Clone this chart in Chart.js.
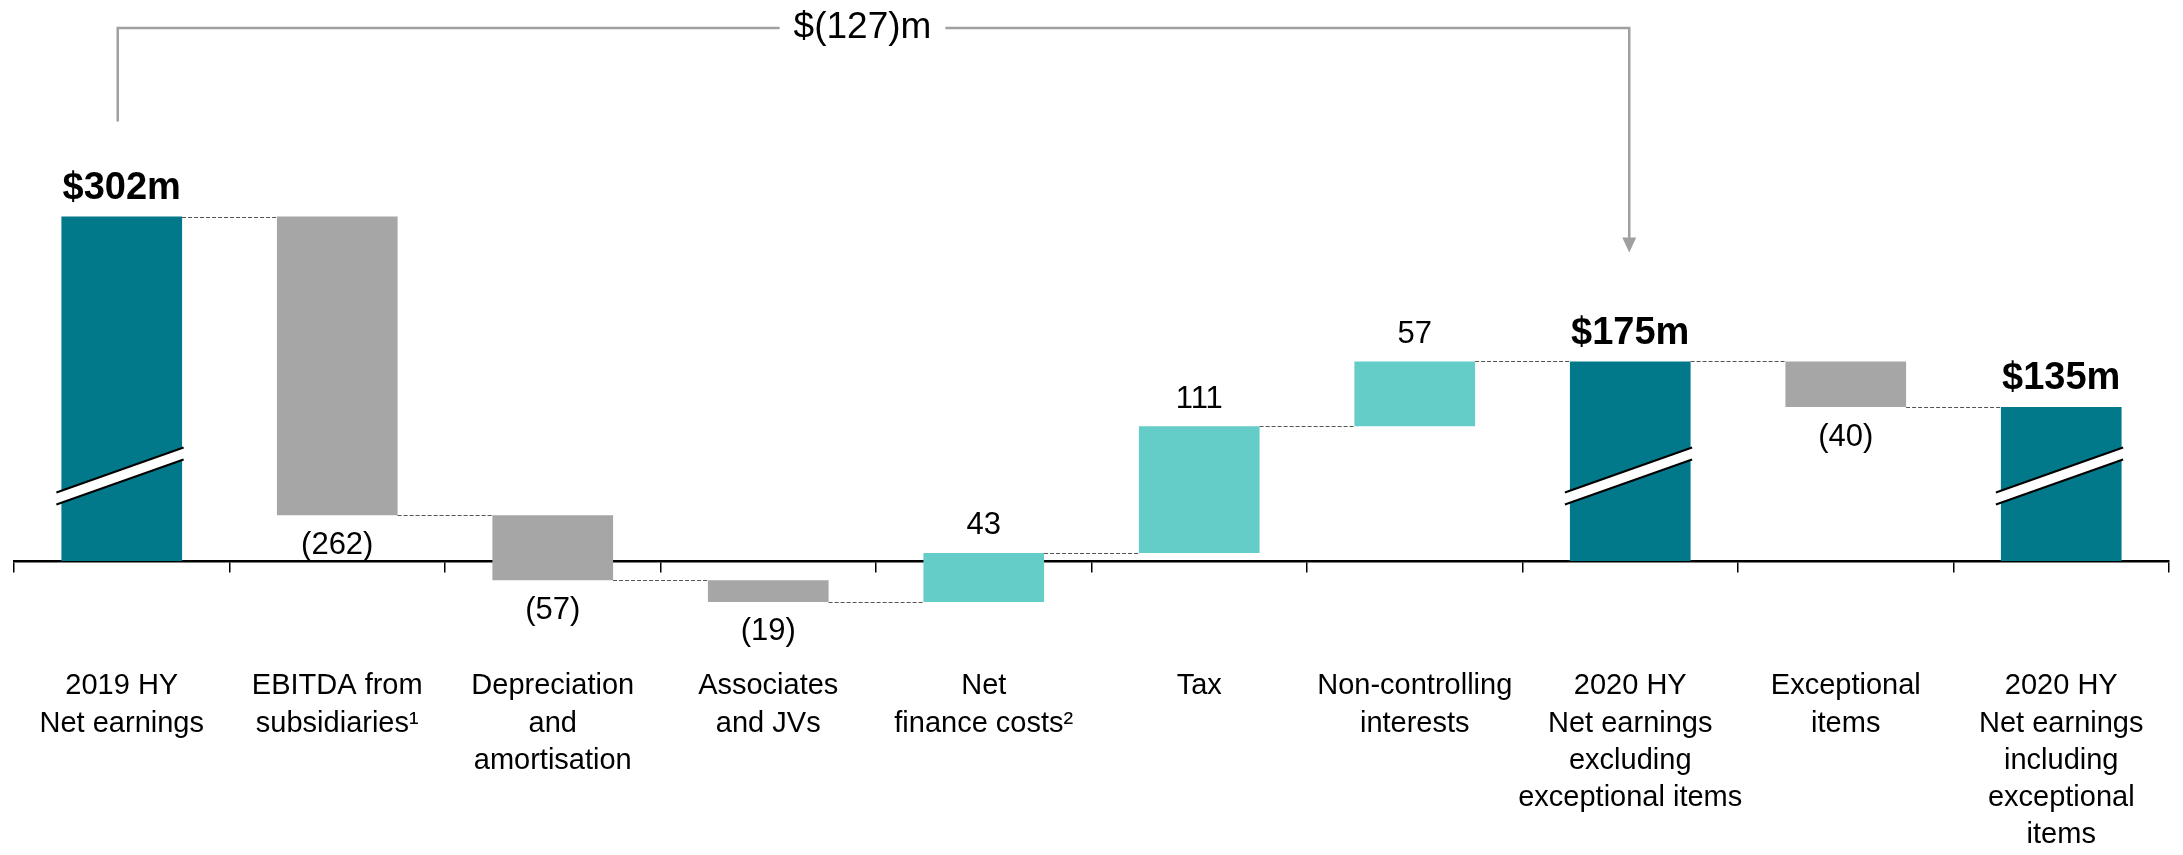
<!DOCTYPE html>
<html>
<head>
<meta charset="utf-8">
<script src="https://cdn.jsdelivr.net/npm/chart.js@4.4.1/dist/chart.umd.min.js"></script>
<style>
  html, body { margin: 0; padding: 0; background: #fff; }
  #wrap { width: 2183px; height: 855px; }
</style>
</head>
<body>
<div id="wrap"><canvas id="bridge" width="2183" height="855"></canvas></div>
<script>
const categories = [
  ['2019 HY', 'Net earnings'],
  ['EBITDA from', 'subsidiaries¹'],
  ['Depreciation', 'and', 'amortisation'],
  ['Associates', 'and JVs'],
  ['Net', 'finance costs²'],
  ['Tax'],
  ['Non-controlling', 'interests'],
  ['2020 HY', 'Net earnings', 'excluding', 'exceptional items'],
  ['Exceptional', 'items'],
  ['2020 HY', 'Net earnings', 'including', 'exceptional', 'items']
]
const changes = [302, -262, -57, -19, 43, 111, 57, 175, -40, 135]
const isTotal = [true, false, false, false, false, false, false, true, false, true]

const FONT = '"Liberation Sans", Arial, sans-serif'
const TEAL = '#02798a'
const AQUA = '#65cdc7'
const GREY = '#a6a6a6'

// running level -> floating [from, to] pairs
let level = 0
const spans = changes.map((v, i) => {
  if (isTotal[i]) { level = v; return [0, v] }
  const span = [level, level + v]
  level += v
  return span
})
const colors = changes.map((v, i) => isTotal[i] ? TEAL : (v < 0 ? GREY : AQUA))

function valueText(v, i) {
  if (isTotal[i]) return '$' + v + 'm'
  return v < 0 ? '(' + (-v) + ')' : String(v)
}

const totalIdx = isTotal.map((t, i) => t ? i : -1).filter(i => i >= 0)

const bridgeDecor = {
  id: 'bridgeDecor',
  afterDatasetsDraw(chart) {
    const ctx = chart.ctx
    const bars = chart.getDatasetMeta(0).data
    const y = chart.scales.y

    // dashed connectors between neighbouring bars
    ctx.save()
    ctx.strokeStyle = '#555'
    ctx.lineWidth = 1.2
    ctx.setLineDash([4, 2])
    for (let i = 0; i < bars.length - 1; i++) {
      const a = bars[i], b = bars[i + 1]
      const py = Math.round(y.getPixelForValue(spans[i][1])) + 0.5
      ctx.beginPath()
      ctx.moveTo(a.x + a.width / 2, py)
      ctx.lineTo(b.x - b.width / 2, py)
      ctx.stroke()
    }
    ctx.restore()

    // axis-break marks on the total bars
    const yb = y.getPixelForValue(75)
    totalIdx.forEach(i => {
      const b = bars[i]
      const x0 = b.x - b.width / 2 - 5, x1 = b.x + b.width / 2 + 1.5
      const yc = x => yb - (x - b.x) * 0.353
      ctx.save()
      ctx.fillStyle = '#fff'
      ctx.beginPath()
      ctx.moveTo(x0, yc(x0) - 6)
      ctx.lineTo(x1, yc(x1) - 6)
      ctx.lineTo(x1, yc(x1) + 6)
      ctx.lineTo(x0, yc(x0) + 6)
      ctx.closePath()
      ctx.fill()
      ctx.strokeStyle = '#000'
      ctx.lineWidth = 2
      ;[-6, 6].forEach(d => {
        ctx.beginPath()
        ctx.moveTo(x0, yc(x0) + d)
        ctx.lineTo(x1, yc(x1) + d)
        ctx.stroke()
      })
      ctx.restore()
    })

    // value labels
    ctx.save()
    ctx.textAlign = 'center'
    ctx.textBaseline = 'middle'
    ctx.fillStyle = '#000'
    bars.forEach((b, i) => {
      const v = changes[i]
      const top = y.getPixelForValue(Math.max(...spans[i]))
      const bottom = y.getPixelForValue(Math.min(...spans[i]))
      if (isTotal[i]) {
        ctx.font = 'bold 38px ' + FONT
        ctx.fillText(valueText(v, i), b.x, top - 28)
      } else {
        ctx.font = '31px ' + FONT
        if (v < 0) ctx.fillText(valueText(v, i), b.x, bottom + 30)
        else ctx.fillText(valueText(v, i), b.x, top - 27)
      }
    })
    ctx.restore()

    // bracket from the 2019 total to the 2020 total
    const from = bars[totalIdx[0]], to = bars[totalIdx[1]]
    const diff = changes[totalIdx[1]] - changes[totalIdx[0]]
    const label = diff < 0 ? '$(' + (-diff) + ')m' : '$' + diff + 'm'
    const lineY = 28
    const xL = from.x - 4, xR = to.x - 1
    const legL = y.getPixelForValue(changes[totalIdx[0]]) - 95
    const tip = y.getPixelForValue(changes[totalIdx[1]]) - 109
    const tx = (xL + xR) / 2 - 11
    ctx.save()
    ctx.font = '37px ' + FONT
    const half = ctx.measureText(label).width / 2 + 14
    ctx.strokeStyle = '#a0a0a0'
    ctx.lineWidth = 2.5
    ctx.beginPath()
    ctx.moveTo(xL, legL)
    ctx.lineTo(xL, lineY)
    ctx.lineTo(tx - half, lineY)
    ctx.moveTo(tx + half, lineY)
    ctx.lineTo(xR, lineY)
    ctx.lineTo(xR, tip - 12)
    ctx.stroke()
    ctx.fillStyle = '#a0a0a0'
    ctx.beginPath()
    ctx.moveTo(xR - 7, tip - 15)
    ctx.lineTo(xR + 7, tip - 15)
    ctx.lineTo(xR, tip)
    ctx.closePath()
    ctx.fill()
    ctx.fillStyle = '#000'
    ctx.textAlign = 'center'
    ctx.textBaseline = 'middle'
    ctx.fillText(label, tx, lineY)
    ctx.restore()
  }
}

new Chart(document.getElementById('bridge'), {
  type: 'bar',
  data: {
    labels: categories,
    datasets: [{
      data: spans,
      backgroundColor: colors,
      borderWidth: 0,
      categoryPercentage: 1,
      barPercentage: 0.56
    }]
  },
  options: {
    responsive: false,
    animation: false,
    devicePixelRatio: 1,
    layout: { padding: { left: 14, right: 14, top: 0, bottom: 0 } },
    plugins: { legend: { display: false }, tooltip: { enabled: false } },
    scales: {
      x: {
        position: { y: 0 },
        // labels sit well inside their slots, so no extra side padding
        afterFit(scale) { scale.paddingLeft = 0; scale.paddingRight = 0 },
        grid: { offset: true, drawOnChartArea: false, drawTicks: true, tickLength: 10, color: '#000', lineWidth: 1.5 },
        border: { display: true, color: '#000', width: 2.5 },
        ticks: {
          padding: 97,
          color: '#000',
          autoSkip: false,
          maxRotation: 0,
          font: { family: FONT, size: 29, lineHeight: 1.28 }
        }
      },
      y: { display: false, min: -258, max: 492 }
    }
  },
  plugins: [bridgeDecor]
})
</script>
</body>
</html>
